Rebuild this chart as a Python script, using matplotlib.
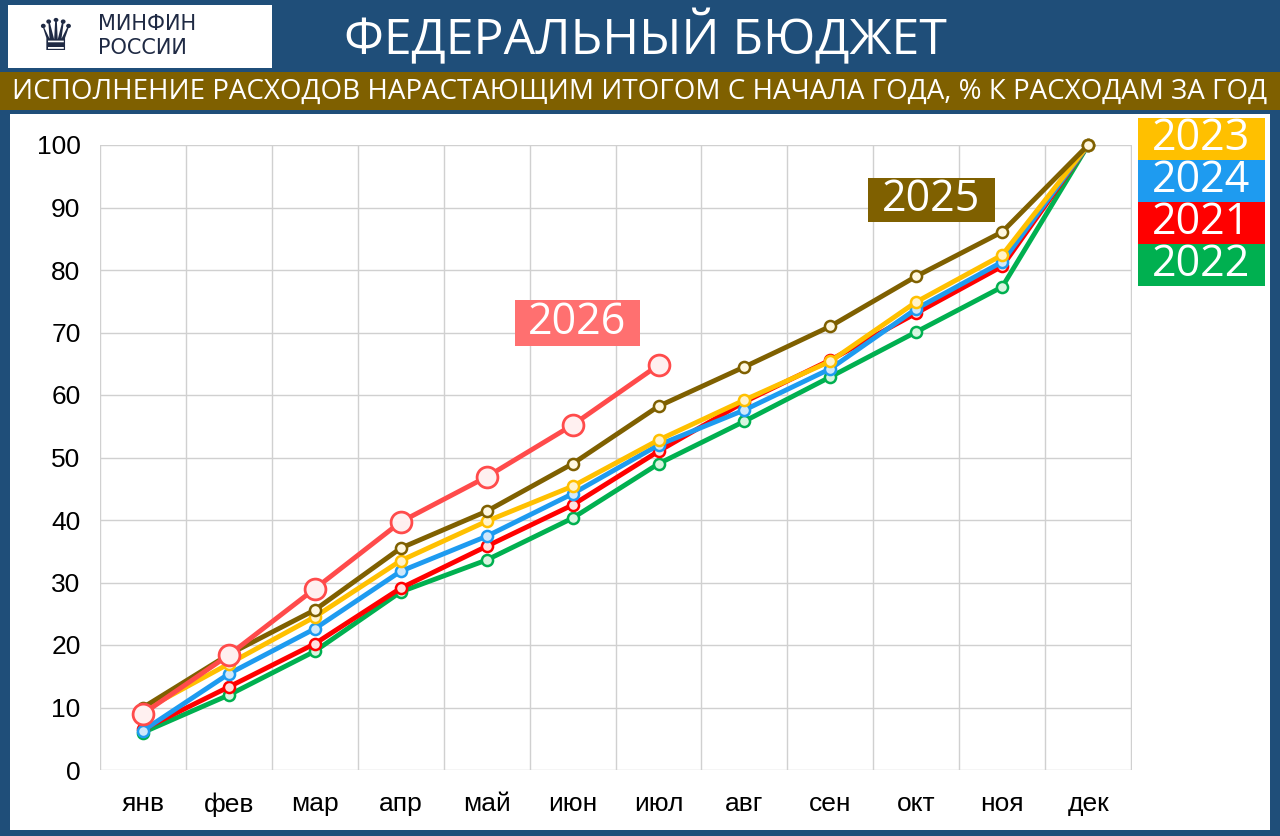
import matplotlib
matplotlib.use('Agg')
import matplotlib.pyplot as plt
from matplotlib.patches import Rectangle

months = ["янв", "фев", "мар", "апр", "май", "июн", "июл", "авг", "сен", "окт", "ноя", "дек"]
y2021 = [6.5, 13.3, 20.2, 29.1, 35.8, 42.4, 51.0, 58.9, 65.6, 73.1, 80.6, 100]
y2022 = [6.0, 12.0, 19.0, 28.5, 33.6, 40.3, 49.0, 55.8, 62.9, 70.1, 77.3, 100]
y2023 = [9.5, 17.0, 24.5, 33.5, 39.8, 45.4, 52.8, 59.2, 65.4, 74.9, 82.4, 100]
y2024 = [6.3, 15.4, 22.6, 31.8, 37.4, 44.2, 52.0, 57.6, 64.2, 73.8, 81.3, 100]
y2025 = [10.0, 18.5, 25.6, 35.5, 41.4, 49.0, 58.2, 64.5, 71.0, 79.0, 86.1, 100]
y2026 = [9.0, 18.4, 29.0, 39.7, 46.9, 55.2, 64.8]

W, H = 1280, 836
fig = plt.figure(figsize=(12.8, 8.36), dpi=100)
fig.patch.set_facecolor("#1f4e79")

def box(x0, y0, x1, y1, color, z=-1):
    fig.patches.append(Rectangle((x0 / W, 1 - y1 / H), (x1 - x0) / W, (y1 - y0) / H,
                                 transform=fig.transFigure, facecolor=color, edgecolor="none", zorder=z))

# header
box(8, 5, 272, 68, "white")
fig.text(98 / W, 1 - 24 / H, "МИНФИН", color="#1f2a44", fontsize=15, va="center", family="DejaVu Sans")
fig.text(98 / W, 1 - 48 / H, "РОССИИ", color="#1f2a44", fontsize=15, va="center", family="DejaVu Sans")
fig.text(55 / W, 1 - 37 / H, "♛", color="#1f2a44", fontsize=32, ha="center", va="center", family="DejaVu Sans")
fig.text(645 / W, 1 - 38 / H, "ФЕДЕРАЛЬНЫЙ БЮДЖЕТ", color="white", fontsize=36, ha="center", va="center",
         family="Open Sans")
box(0, 72, 1280, 110, "#7f6000")
fig.text(640 / W, 1 - 92 / H, "ИСПОЛНЕНИЕ РАСХОДОВ НАРАСТАЮЩИМ ИТОГОМ С НАЧАЛА ГОДА, % К РАСХОДАМ ЗА ГОД",
         color="white", fontsize=20, ha="center", va="center", family="Open Sans")
box(10, 114, 1270, 830, "white")

ax = fig.add_axes([100 / W, 1 - 770 / H, 1032 / W, 625 / H])
ax.set_zorder(1)
ax.set_facecolor("none")
x = list(range(12))
ax.set_xlim(-0.476, 11.51)
ax.set_ylim(0, 100)
ax.set_yticks(range(0, 101, 10))
ax.set_xticks(x)
ax.set_xticklabels(months)
ax.set_xticks([i + 0.5 for i in range(-1, 12)], minor=True)
ax.grid(True, axis="y", color="#d0d0d0", lw=1)
ax.grid(True, axis="x", which="minor", color="#d0d0d0", lw=1)
ax.tick_params(axis="x", which="both", length=0, labelsize=19, pad=16)
ax.tick_params(axis="y", length=0, labelsize=19, pad=14)
for lab in ax.get_xticklabels() + ax.get_yticklabels():
    lab.set_family("Liberation Sans")
for s in ax.spines.values():
    s.set_visible(False)

series = [
    (y2022, "#00b050", "#d8f5e0"),
    (y2021, "#ff0000", "#ffe0e0"),
    (y2024, "#1e9bf0", "#cfe8fb"),
    (y2023, "#ffc000", "#fff3cc"),
    (y2025, "#7f6000", "#fff8e0"),
]
for ys, c, fc in series:
    ax.plot(x[:len(ys)], ys, color=c, lw=3.5, marker="o", ms=8, mfc=fc, mec=c, mew=1.8, clip_on=False)
ax.plot(x[:len(y2026)], y2026, color="#ff4b4b", lw=3.5, marker="o", ms=15, mfc="#fff0f0", mec="#ff4b4b",
        mew=2, clip_on=False)

# year labels
labels = [
    ("2023", 1138, 118, 1265, 160, "#ffc000"),
    ("2024", 1138, 160, 1265, 202, "#1e9bf0"),
    ("2021", 1138, 202, 1265, 244, "#ff0000"),
    ("2022", 1138, 244, 1265, 286, "#00b050"),
    ("2025", 868, 178, 995, 222, "#7f6000"),
    ("2026", 515, 300, 640, 346, "#ff7070"),
]
for t, x0, y0, x1, y1, c in labels:
    box(x0, y0, x1, y1, c, z=2)
    fig.text((x0 + x1) / 2 / W, 1 - (y0 + y1) / 2 / H, t, color="white", fontsize=31,
             ha="center", va="center", family="Open Sans", zorder=3)

fig.savefig("out.png", dpi=100, facecolor=fig.get_facecolor())
